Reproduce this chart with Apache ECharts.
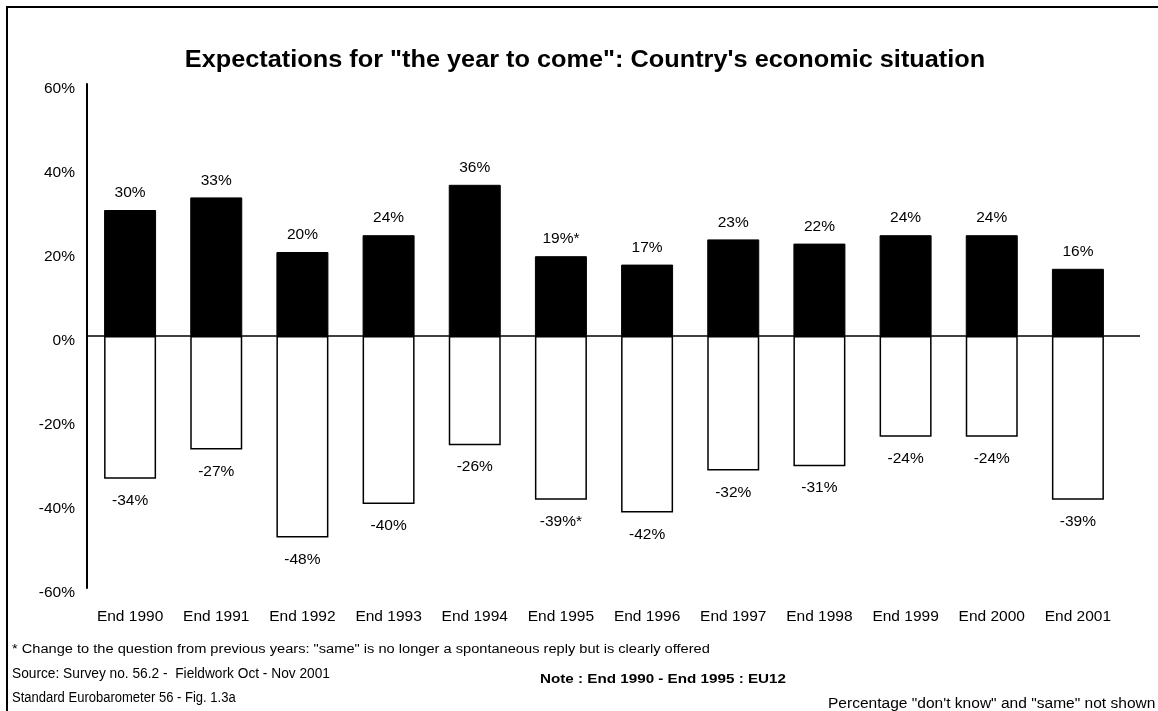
<!DOCTYPE html>
<html>
<head>
<meta charset="utf-8">
<script src="https://cdn.jsdelivr.net/npm/echarts@6/dist/echarts.min.js"></script>
<style>
  html, body { margin: 0; padding: 0; background: #fff; }
  #chart { width: 1158px; height: 711px; }
</style>
</head>
<body>
<div id="chart"></div>
<script>
// Survey periods
const categories = ['End 1990', 'End 1991', 'End 1992', 'End 1993', 'End 1994', 'End 1995',
                    'End 1996', 'End 1997', 'End 1998', 'End 1999', 'End 2000', 'End 2001'];
// "Better" share (%)
const betterValues = [30, 33, 20, 24, 36, 19, 17, 23, 22, 24, 24, 16];
// "Worse" share (%), drawn below zero
const worseValues = [-34, -27, -48, -40, -26, -39, -42, -32, -31, -24, -24, -39];
// Periods where the question wording changed
const starred = ['End 1995'];
// Value axis ticks
const yMin = -60, yMax = 60, yStep = 20;

const FONT = '"Liberation Sans", Arial, sans-serif';
const LABEL_SIZE = 15.5;

function pctLabel(p) {
  const mark = starred.includes(categories[p.dataIndex]) ? '*' : '';
  return p.value + '%' + mark;
}

const chart = echarts.init(document.getElementById('chart'), null, { renderer: 'canvas' });

const option = {
  animation: false,
  backgroundColor: '#fff',
  textStyle: { fontFamily: FONT, color: '#000' },
  grid: { left: 87, right: 37, top: 84, bottom: 123, containLabel: false },
  xAxis: {
    type: 'category',
    data: categories,
    position: 'bottom',
    axisLine: { show: false, onZero: false },
    axisTick: { show: false },
    axisLabel: { fontFamily: FONT, fontSize: LABEL_SIZE, color: '#000', margin: 21, interval: 0 }
  },
  yAxis: {
    type: 'value',
    min: yMin, max: yMax, interval: yStep,
    axisLine: { show: true, lineStyle: { color: '#000', width: 2 } },
    axisTick: { show: false },
    splitLine: { show: false },
    axisLabel: {
      fontFamily: FONT, fontSize: LABEL_SIZE, color: '#000', margin: 12,
      verticalAlign: 'top', lineHeight: 10,
      formatter: v => v + '%'
    }
  },
  series: [
    {
      name: 'Better',
      type: 'bar',
      stack: 'total',
      data: betterValues,
      barWidth: 52,
      itemStyle: { color: '#000', borderColor: '#000', borderWidth: 1 },
      label: {
        show: true, position: 'top', distance: 9,
        fontFamily: FONT, fontSize: LABEL_SIZE, color: '#000',
        formatter: pctLabel
      },
      markLine: {
        silent: true, symbol: 'none', label: { show: false },
        lineStyle: { color: '#000', width: 1.5, type: 'solid' },
        data: [{ yAxis: 0 }]
      },
      z: 3
    },
    {
      name: 'Worse',
      type: 'bar',
      stack: 'total',
      data: worseValues,
      barWidth: 52,
      itemStyle: { color: '#fff', borderColor: '#000', borderWidth: 1.5 },
      label: {
        show: true, position: 'bottom', distance: 14,
        fontFamily: FONT, fontSize: LABEL_SIZE, color: '#000',
        formatter: pctLabel
      },
      z: 2
    }
  ]
};

chart.setOption(option);

// Frame, title, zero-line extension past the last category, and footnotes
const zeroY = chart.convertToPixel({ yAxisIndex: 0 }, 0);
const gridRight = 1158 - 37;

function note(x, y, text, font, scaleX) {
  return {
    type: 'text', x: x, y: y, scaleX: scaleX, silent: true, z: 10,
    style: { x: 0, y: 0, text: text, font: font, fill: '#000',
             textAlign: 'left', textVerticalAlign: 'middle' }
  };
}

chart.setOption({
  graphic: [
    {
      type: 'rect', silent: true, z: 10,
      shape: { x: 7, y: 7, width: 1170, height: 720 },
      style: { fill: 'none', stroke: '#000', lineWidth: 2 }
    },
    {
      type: 'text', x: 585, y: 61, scaleX: 1.1, silent: true, z: 10,
      style: { x: 0, y: 0,
               text: 'Expectations for "the year to come": Country\'s economic situation',
               font: 'bold 23px ' + FONT, fill: '#000',
               textAlign: 'center', textVerticalAlign: 'middle' }
    },
    {
      type: 'line', silent: true, z: 10,
      shape: { x1: gridRight, y1: zeroY, x2: 1140, y2: zeroY },
      style: { stroke: '#000', lineWidth: 1.5 }
    },
    note(12, 650, '* Change to the question from previous years: "same" is no longer a spontaneous reply but is clearly offered',
         '12.5px ' + FONT, 1.17),
    note(12, 674, 'Source: Survey no. 56.2 -  Fieldwork Oct - Nov 2001', '14px ' + FONT, 0.98),
    note(12, 698, 'Standard Eurobarometer 56 - Fig. 1.3a', '14px ' + FONT, 0.93),
    note(540, 679, 'Note : End 1990 - End 1995 : EU12', 'bold 13px ' + FONT, 1.17),
    note(828, 704, 'Percentage "don\'t know" and "same" not shown', '14px ' + FONT, 1.11)
  ]
});
</script>
</body>
</html>
